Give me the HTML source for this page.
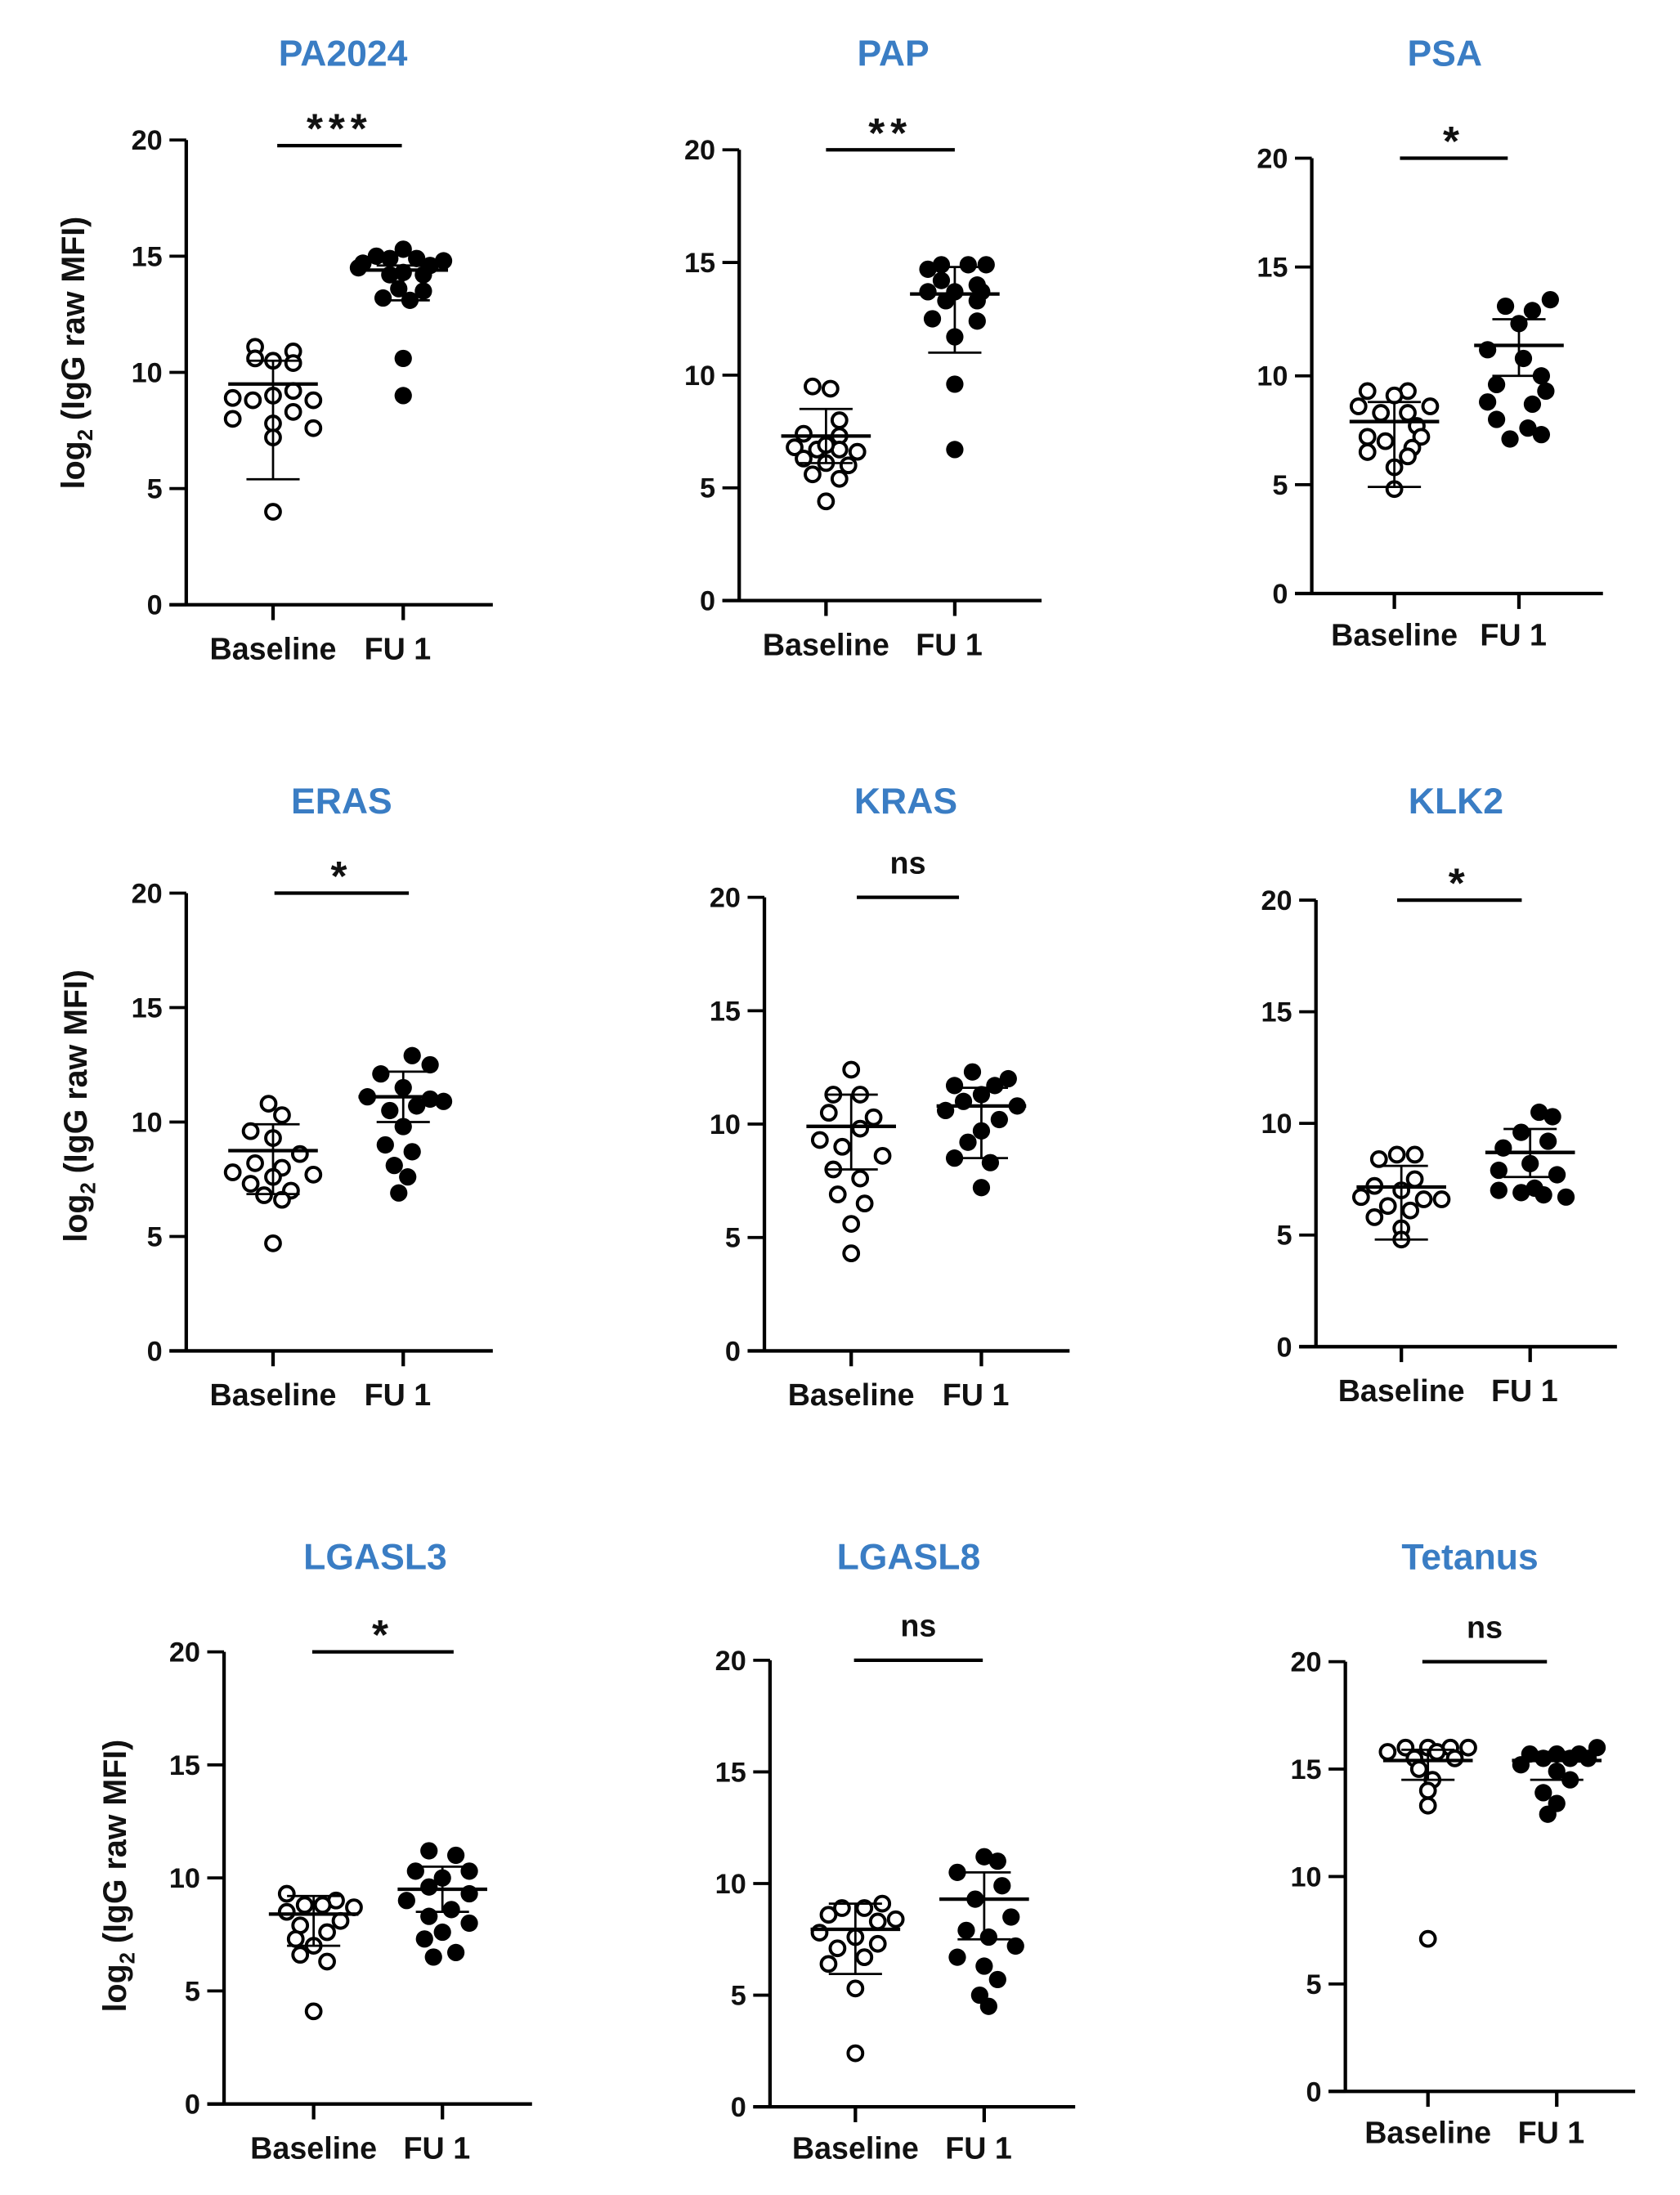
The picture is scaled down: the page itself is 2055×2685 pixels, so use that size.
<!DOCTYPE html>
<html><head><meta charset="utf-8"><style>
html,body{margin:0;padding:0;background:#fff;}
svg{display:block;}
text{font-family:"Liberation Sans",Arial,sans-serif;font-weight:bold;}
</style></head><body>
<svg id="fig" width="2055" height="2685" viewBox="0 0 1200 1568" xmlns="http://www.w3.org/2000/svg"></svg>
<script>
// ---- data ----
const titles = ["PA2024","PAP","PSA","ERAS","KRAS","KLK2","LGASL3","LGASL8","Tetanus"];
const sigLabels = ["***","**","*","*","ns","*","*","ns","ns"];
const yTicks = [0,5,10,15,20];
const categories = ["Baseline","FU 1"];
const baseVals = [
 [11.1,10.9,10.6,10.5,10.4,9.2,9.0,8.9,8.8,8.8,8.3,8.0,7.8,7.6,7.2,4.0],
 [9.5,9.4,8.0,7.4,7.3,6.8,6.7,6.7,6.6,6.3,6.1,6.0,5.6,5.4,4.4,6.9],
 [9.3,9.3,9.1,8.6,8.6,8.3,8.3,7.7,7.2,7.2,7.0,6.7,6.5,6.3,5.8,4.8],
 [10.8,10.3,9.6,9.3,8.6,8.2,8.0,7.8,7.7,7.6,7.3,7.0,6.8,6.6,4.7],
 [12.4,11.3,11.3,10.5,10.3,9.8,9.3,9.0,8.6,8.0,7.6,6.9,6.5,5.6,4.3],
 [8.6,8.6,8.4,7.5,7.2,7.0,6.7,6.6,6.6,6.3,6.1,5.8,5.3,4.8],
 [9.3,9.0,8.8,8.8,8.7,8.5,8.1,7.9,7.6,7.3,7.0,6.6,6.3,4.1],
 [9.1,8.9,8.9,8.6,8.3,7.8,7.6,7.3,7.1,6.7,6.4,5.3,2.4,8.4],
 [16.0,16.0,16.0,16.0,15.8,15.8,15.5,15.5,15.0,14.5,14.0,13.3,7.1]
];
const baseJit = [
 [-0.4,0.45,-0.4,0,0.45,0.45,0,-0.9,-0.45,0.9,0.45,-0.9,0,0.9,0,0],
 [-0.3,0.1,0.3,-0.5,0.3,-0.7,-0.2,0.3,0.7,-0.5,0,0.5,-0.3,0.3,0,0],
 [-0.6,0.3,0,-0.8,0.8,-0.3,0.3,0.5,-0.6,0.6,-0.2,0.4,-0.6,0.3,0,0],
 [-0.1,0.2,-0.5,0,0.6,-0.4,0.2,-0.9,0.9,0,-0.5,0.4,-0.2,0.2,0],
 [0,-0.4,0.2,-0.5,0.5,0.2,-0.7,-0.2,0.7,-0.4,0.2,-0.3,0.3,0,0],
 [-0.1,0.3,-0.5,0.3,-0.6,0,-0.9,0.5,0.9,-0.3,0.2,-0.6,0,0],
 [-0.6,0.5,-0.2,0.2,0.9,-0.6,0.6,-0.3,0.3,-0.4,0,-0.3,0.3,0],
 [0.6,-0.3,0.2,-0.6,0.5,-0.8,0,0.5,-0.4,0.2,-0.6,0,0,0.9],
 [-0.5,0,0.5,0.9,-0.9,0.2,-0.3,0.6,-0.2,0.1,0,0,0]
];
const fuVals = [
 [15.3,15.0,14.9,14.9,14.8,14.7,14.6,14.5,14.3,14.2,14.2,13.6,13.5,13.2,13.1,10.6,9.0],
 [14.9,14.9,14.9,14.7,14.2,14.0,13.7,13.7,13.7,13.3,13.3,12.5,12.4,11.7,9.6,6.7],
 [13.5,13.2,13.0,12.4,11.2,10.8,10.0,9.6,9.3,8.8,8.7,8.0,7.6,7.3,7.1],
 [12.9,12.5,12.1,11.5,11.1,11.0,10.7,10.5,9.8,9.0,8.7,8.1,7.6,6.9,10.9],
 [12.3,12.0,11.7,11.7,11.3,11.0,10.8,10.6,10.2,9.7,9.2,8.5,8.3,7.2],
 [10.5,10.3,9.6,9.2,8.9,8.2,7.9,7.7,7.0,6.9,6.8,6.7,7.1],
 [11.2,11.0,10.3,10.3,10.0,9.6,9.3,9.0,8.6,8.3,8.0,7.6,7.3,6.7,6.5],
 [11.2,11.0,10.5,9.9,9.3,8.5,7.9,7.6,7.2,6.7,6.3,5.7,5.0,4.5],
 [16.0,15.7,15.7,15.7,15.5,15.5,15.5,15.2,14.9,14.5,13.9,13.4,12.9]
];
const fuJit = [
 [0,-0.6,0.3,-0.3,0.9,-0.9,0.6,-1.0,0,-0.3,0.45,-0.1,0.45,-0.45,0.15,0,0],
 [0.3,-0.3,0.7,-0.6,-0.3,0.5,-0.6,0,0.6,-0.2,0.5,-0.5,0.5,0,0,0],
 [0.7,-0.3,0.3,0,-0.7,0.1,0.5,-0.5,0.6,-0.7,0.3,-0.5,0.2,0.5,-0.2],
 [0.2,0.6,-0.5,0,-0.8,0.6,0.3,-0.3,0,-0.4,0.2,-0.2,0.1,-0.1,0.9],
 [-0.2,0.6,-0.6,0.3,0,-0.4,0.8,-0.8,0.4,0,-0.3,-0.6,0.2,0],
 [0.2,0.5,-0.2,0.4,-0.6,0,-0.7,0.6,-0.7,-0.2,0.3,0.8,0.1],
 [-0.3,0.3,-0.6,0.6,0,-0.3,0.6,-0.8,0.2,-0.3,0.6,0,-0.4,0.3,-0.2],
 [0,0.3,-0.6,0.4,-0.2,0.6,-0.4,0.1,0.7,-0.6,0,0.3,-0.1,0.1],
 [0.9,-0.6,0,0.5,-0.3,0.3,0.7,-0.8,0,0.3,-0.3,0,-0.2]
];
const baseCenter = [9.5,7.3,7.9,8.75,9.9,7.15,8.4,7.95,15.4];
const baseLow    = [5.4,6.1,4.9,6.85,8.0,4.8,7.0,5.95,14.5];
const baseHigh   = [10.5,8.5,8.8,9.9,11.3,8.1,9.2,9.1,15.9];
const fuCenter   = [14.4,13.6,11.4,11.1,10.8,8.7,9.5,9.3,15.4];
const fuLow      = [13.1,11.0,10.0,10.0,8.5,7.6,8.5,7.5,14.5];
const fuHigh     = [14.6,14.8,12.6,12.2,11.6,9.75,10.5,10.5,15.8];

// ---- layout (per panel geometry) ----
const layout = [
 {ax:133,y20:100,y0:432,xe:352,t1:195,t2:288,tx:245,ty:38,sy:104,s1:198,s2:287,lab:463},
 {ax:528,y20:107,y0:429,xe:744,t1:590,t2:682,tx:638,ty:38,sy:107,s1:590,s2:682,lab:460},
 {ax:937,y20:113,y0:424,xe:1145,t1:996,t2:1085,tx:1032,ty:38,sy:113,s1:1000,s2:1077,lab:453},
 {ax:133,y20:638,y0:965,xe:352,t1:195,t2:288,tx:244,ty:572,sy:638,s1:196,s2:292,lab:996},
 {ax:546,y20:641,y0:965,xe:764,t1:608,t2:701,tx:647,ty:572,sy:641,s1:612,s2:685,lab:996},
 {ax:940,y20:643,y0:962,xe:1155,t1:1001,t2:1093,tx:1040,ty:572,sy:643,s1:998,s2:1087,lab:993},
 {ax:160,y20:1180,y0:1503,xe:380,t1:224,t2:316,tx:268,ty:1112,sy:1180,s1:223,s2:324,lab:1534},
 {ax:550,y20:1186,y0:1505,xe:768,t1:611,t2:703,tx:649,ty:1112,sy:1186,s1:610,s2:702,lab:1534},
 {ax:961,y20:1187,y0:1494,xe:1168,t1:1020,t2:1112,tx:1050,ty:1112,sy:1187,s1:1016,s2:1105,lab:1523}
];
const yTitles = [{x:60,y:252},{x:62,y:790},{x:90,y:1340}];

const NS="http://www.w3.org/2000/svg";
const svg=document.getElementById('fig');
function mk(tag,attrs,parent){const e=document.createElementNS(NS,tag);for(const k in attrs)e.setAttribute(k,attrs[k]);(parent||svg).appendChild(e);return e;}

titles.forEach((title,i)=>{
  const L=layout[i];
  const g=mk('g',{});
  
  
  const yS=v=>L.y0-(v/20)*(L.y0-L.y20);
  const xS=c=>c===0?L.t1:L.t2;
  const t=mk('text',{x:L.tx,y:L.ty+9,'text-anchor':'middle','font-size':26,fill:'#3a7dc4'},g);
  t.textContent=title;
  
  
  const ya=mk('line',{x1:L.ax,y1:L.y20,x2:L.ax,y2:L.y0,stroke:'#000','stroke-width':2.5},g);
  
  
  const xa=mk('line',{x1:L.ax-12,y1:L.y0,x2:L.xe,y2:L.y0,stroke:'#000','stroke-width':2.5},g);
  
  
  yTicks.forEach(v=>{
    mk('line',{x1:L.ax-12,y1:yS(v),x2:L.ax,y2:yS(v),stroke:'#000','stroke-width':2.2},g);
    const tl=mk('text',{x:L.ax-17,y:yS(v)+7,'text-anchor':'end','font-size':20,fill:'#111'},g);
    tl.textContent=v;
    
    
  });
  categories.forEach((c,ci)=>{
    mk('line',{x1:xS(ci),y1:L.y0,x2:xS(ci),y2:L.y0+11,stroke:'#000','stroke-width':2.5},g);
    const cl=mk('text',{x:xS(ci)+(ci===0?0:-4),y:L.lab+8,'text-anchor':'middle','font-size':22,fill:'#111'},g);
    cl.textContent=c;
    
    
  });
  const sl=mk('line',{x1:L.s1,y1:L.sy,x2:L.s2,y2:L.sy,stroke:'#000','stroke-width':2.5},g);
  
  
  const isNs=sigLabels[i]==='ns';
  const st=mk('text',{x:(L.s1+L.s2)/2,y:isNs?L.sy-17:L.sy-2,'text-anchor':'middle','font-size':isNs?22:30,'font-weight':isNs?'normal':'bold','letter-spacing':isNs?0:4,fill:'#111'},g);
  st.textContent=sigLabels[i];
  
  
  const groups=[[baseVals[i],baseJit[i],0],[fuVals[i],fuJit[i],1]];
  groups.forEach(([vals,jit,ci])=>{
    vals.forEach((v,k)=>{
      const p=mk('circle',{cx:xS(ci)+jit[k]*32,cy:yS(v),r:ci===0?5.2:6.2,fill:ci===0?'#fff':'#000',stroke:'#000','stroke-width':ci===0?2.3:0},g);
      
      
    });
  });
  [[baseCenter[i],baseLow[i],baseHigh[i],0],[fuCenter[i],fuLow[i],fuHigh[i],1]].forEach(([m,lo,hi,ci])=>{
    const x=xS(ci);
    const eb=mk('line',{x1:x,y1:yS(lo),x2:x,y2:yS(hi),stroke:'#000','stroke-width':1.6},g);
    
    
    mk('line',{x1:x-19,y1:yS(lo),x2:x+19,y2:yS(lo),stroke:'#000','stroke-width':1.6},g);
    mk('line',{x1:x-19,y1:yS(hi),x2:x+19,y2:yS(hi),stroke:'#000','stroke-width':1.6},g);
    const ml=mk('line',{x1:x-32,y1:yS(m),x2:x+32,y2:yS(m),stroke:'#000','stroke-width':2.5},g);
    
    
  });
});
yTitles.forEach(p=>{
  const t=mk('text',{x:p.x,y:p.y,'text-anchor':'middle','font-size':23,fill:'#111',transform:'rotate(-90 '+p.x+' '+p.y+')'});
  
  
  t.innerHTML='log<tspan font-size="15" dy="6">2</tspan><tspan dy="-6"> (IgG raw MFI)</tspan>';
});
</script>
</body></html>
